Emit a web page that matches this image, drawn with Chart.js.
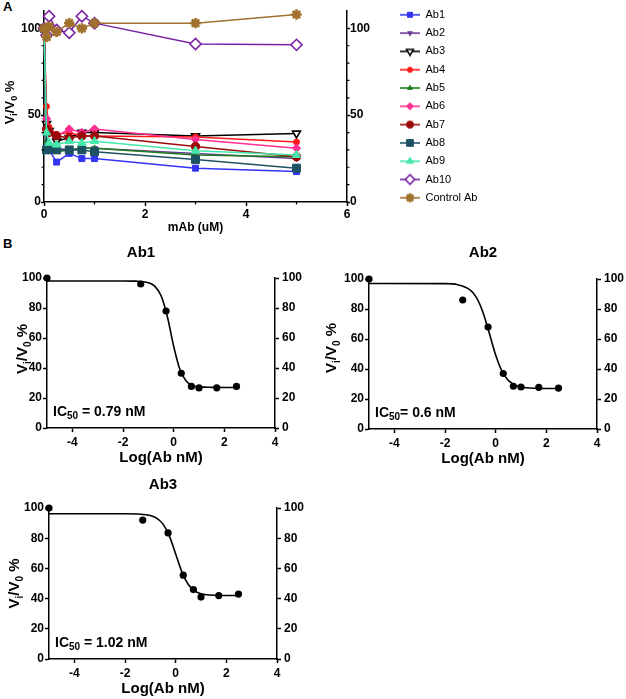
<!DOCTYPE html>
<html>
<head>
<meta charset="utf-8">
<script src="https://cdn.jsdelivr.net/npm/chart.js"></script>
<style>
html, body { margin: 0; padding: 0; background: #fff; }
body { width: 626px; height: 699px; position: relative; overflow: hidden; font-family: "Liberation Sans", Arial, sans-serif; }
.box { position: absolute; }
.lbl { position: absolute; font-weight: bold; font-size: 13px; line-height: 13px; color: #000; }
</style>
</head>
<body>
<div class="lbl" style="left:3px;top:0px">A</div>
<div class="lbl" style="left:3px;top:237px">B</div>
<div class="box" style="left:0;top:2px;width:626px;height:237px"><canvas id="chartA"></canvas></div>
<div class="box" style="left:-20px;top:230px;width:322px;height:237px"><canvas id="chartAb1"></canvas></div>
<div class="box" style="left:310px;top:230px;width:316px;height:238px"><canvas id="chartAb2"></canvas></div>
<div class="box" style="left:0;top:460px;width:310px;height:238px"><canvas id="chartAb3"></canvas></div>
<script>
// ---- panel A: inhibition vs mAb concentration (uM)
const concA = [0, 0.05, 0.1, 0.25, 0.5, 0.75, 1, 3, 5];
const ab1 = [100, 31, 30, 23, 28, 25, 25, 19.5, 17.5];
const ab2 = [100, 40, 33, 31, 30, 31, 31, 28, 25];
const ab3 = [100, 45, 41, 35, 37, 40, 40, 38, 39.5];
const ab4 = [100, 55, 43, 39, 40, 38, 38, 37.5, 34.5];
const ab5 = [100, 35, 32, 29, 30, 31, 31, 27, 26];
const ab6 = [100, 48, 40, 38, 42, 40, 42, 36, 31];
const ab7 = [100, 42, 40, 38, 37, 38, 38, 32, 26];
const ab8 = [100, 30, 31, 30, 30, 30, 29, 24.5, 19.5];
const ab9 = [100, 40, 34, 33, 35, 34, 35, 29.5, 27];
const ab10 = [100, 96, 107, 99, 97.5, 107, 103, 91, 90.5];
const ctrl = [100, 95, 101, 98, 103, 100, 103, 103, 108];
const namesA = ['Ab1', 'Ab2', 'Ab3', 'Ab4', 'Ab5', 'Ab6', 'Ab7', 'Ab8', 'Ab9', 'Ab10', 'Control Ab'];
const ticksAX = [0, 2, 4, 6];
const minorAX = [1, 3, 5];
const ticksAY = [0, 50, 100];
const minorAY = [10, 20, 30, 40, 60, 70, 80, 90];

// ---- panel B: dose response, x = Log(Ab nM)
const logB = [-5, -1.3, -0.3, 0.3, 0.7, 1, 1.7, 2.48];
const ab1Pts = [100, 96, 78, 36.5, 27.7, 26.7, 26.8, 27.7];
const ab2Pts = [100, 86, 68, 37, 28.5, 28, 27.8, 27.3];
const ab3Pts = [100, 92, 83.5, 55.5, 46, 41, 42, 43];
// fitted curves
const fitX = [-5, -2, -1.5, -1, -0.75, -0.5, -0.25, 0, 0.25, 0.5, 0.75, 1, 1.5, 2.5];
const ab1Fit = [98, 98, 97.9, 96.9, 94.6, 88.3, 74.3, 54.5, 38.8, 31.2, 28.4, 27.4, 27.1, 27];
const ab2Fit = [97, 96.9, 96.2, 92.6, 87.4, 77.7, 63.8, 49.3, 38.5, 32.4, 29.4, 28, 27.2, 27];
const ab3Fit = [96.2, 96.2, 96, 95.1, 93.3, 89.3, 81.5, 69.6, 57.5, 49.3, 45.1, 43.2, 42.2, 42];
const ticksBX = [-4, -2, 0, 2, 4];
const ticksBY = [0, 20, 40, 60, 80, 100];

const FONT = '"Liberation Sans", Arial, sans-serif';
Chart.defaults.font.family = FONT;
Chart.defaults.color = '#000';
Chart.defaults.animation = false;

const pair = (xs, ys) => xs.map((x, i) => ({x: x, y: ys[i]}));
const setTicks = vals => s => { s.ticks = vals.map(v => ({value: v})); };

// text with subscripts, drawn on the canvas
function drawRich(ctx, parts, x, y, align) {
  const main = Math.max(...parts.map(p => p.s));
  const fnt = p => 'bold ' + p.s + 'px ' + FONT;
  let w = 0;
  parts.forEach(p => { ctx.font = fnt(p); w += ctx.measureText(p.t).width; });
  let cx = align === 'center' ? x - w / 2 : x;
  const base = y + main * 0.36;
  ctx.textAlign = 'left';
  ctx.textBaseline = 'alphabetic';
  parts.forEach(p => {
    ctx.font = fnt(p);
    ctx.fillText(p.t, cx, p.sub ? base + main * 0.22 : base);
    cx += ctx.measureText(p.t).width;
  });
}

const richText = {
  id: 'richText',
  afterDraw(chart, args, opts) {
    const ctx = chart.ctx, ca = chart.chartArea;
    (opts.items || []).forEach(it => {
      ctx.save();
      ctx.fillStyle = '#000';
      if (it.rotate) {
        ctx.translate(ca.left - it.dx, (ca.top + ca.bottom) / 2 + (it.dy || 0));
        ctx.rotate(-Math.PI / 2);
        drawRich(ctx, it.parts, 0, 0, 'center');
      } else {
        drawRich(ctx, it.parts, ca.left + it.dx, ca.bottom - it.dy, 'left');
      }
      ctx.restore();
    });
  }
};

const minorTicks = {
  id: 'minorTicks',
  afterDraw(chart, args, opts) {
    const ctx = chart.ctx, ca = chart.chartArea, len = 2.5;
    ctx.save();
    ctx.strokeStyle = '#000';
    ctx.lineWidth = 1.2;
    ctx.beginPath();
    (opts.x || []).forEach(v => {
      const p = chart.scales.x.getPixelForValue(v);
      ctx.moveTo(p, ca.bottom); ctx.lineTo(p, ca.bottom + len);
    });
    (opts.y || []).forEach(v => {
      const p = chart.scales.y.getPixelForValue(v);
      ctx.moveTo(ca.left, p); ctx.lineTo(ca.left - len, p);
      ctx.moveTo(ca.right, p); ctx.lineTo(ca.right + len, p);
    });
    ctx.stroke();
    ctx.restore();
  }
};

const vTitle = (size, sub) => [
  {t: 'V', s: size}, {t: 'i', s: sub, sub: true}, {t: '/V', s: size}, {t: '0', s: sub, sub: true}, {t: ' %', s: size}
];

// ---------- panel A
const stylesA = [
  {c: '#3434f5', ps: 'rect', r: 4.2, fill: '#3434f5'},
  {c: '#6a3c94', ps: 'triangle', r: 3.2, rot: 180, fill: '#6a3c94'},
  {c: '#000000', ps: 'triangle', r: 4.6, rot: 180, fill: '#ffffff', bw: 1.6},
  {c: '#ff1a1a', ps: 'circle', r: 3, fill: '#ff1a1a'},
  {c: '#1e7d1e', ps: 'triangle', r: 3.2, fill: '#1e7d1e'},
  {c: '#ff2f92', ps: 'rectRot', r: 4.2, fill: '#ff2f92'},
  {c: '#9a0a0a', ps: 'circle', r: 4.2, fill: '#9a0a0a'},
  {c: '#1d5263', ps: 'rect', r: 5.6, fill: '#1d5263'},
  {c: '#45e8ab', ps: 'triangle', r: 4.8, fill: '#45e8ab'},
  {c: '#7a22a6', ps: 'rectRot', r: 5.6, fill: '#ffffff', bw: 1.6},
  {c: '#a0712d', ps: 'star', r: 5.2, fill: '#a0712d', bw: 2.6}
];
const seriesA = [ab1, ab2, ab3, ab4, ab5, ab6, ab7, ab8, ab9, ab10, ctrl];

const datasetsA = seriesA.map((vals, i) => {
  const st = stylesA[i];
  return {
    label: namesA[i],
    data: pair(concA, vals),
    order: seriesA.length - i,   // later series drawn on top
    borderColor: st.c,
    backgroundColor: st.fill,
    borderWidth: 1.5,
    pointStyle: st.ps,
    pointRadius: st.r,
    pointRotation: st.rot || 0,
    pointBackgroundColor: st.fill,
    pointBorderColor: st.c,
    pointBorderWidth: st.bw || 1,
    clip: false
  };
});

function legendIcon(ds) {
  const c = document.createElement('canvas');
  c.width = 22; c.height = 14;
  const g = c.getContext('2d');
  g.strokeStyle = ds.borderColor;
  g.lineWidth = 1.6;
  g.beginPath(); g.moveTo(1, 7); g.lineTo(21, 7); g.stroke();
  g.fillStyle = ds.pointBackgroundColor;
  g.strokeStyle = ds.pointBorderColor;
  g.lineWidth = ds.pointBorderWidth;
  Chart.helpers.drawPoint(g, {
    pointStyle: ds.pointStyle, radius: ds.pointRadius * 0.85,
    rotation: ds.pointRotation, borderWidth: ds.pointBorderWidth
  }, 11, 7);
  return c;
}

const axisStyle = (len) => ({
  drawOnChartArea: false, drawTicks: true, tickLength: len, tickWidth: 1.5, tickColor: '#000'
});
const border = {color: '#000', width: 1.5};
const tickFont = {size: 12, weight: 'bold'};

new Chart(document.getElementById('chartA'), {
  type: 'line',
  data: {datasets: datasetsA},
  options: {
    responsive: true,
    maintainAspectRatio: false,
    layout: {padding: {left: 0, right: 139.3, top: 0, bottom: 0}},
    scales: {
      x: {
        type: 'linear', min: 0, max: 6,
        afterBuildTicks: setTicks(ticksAX),
        afterFit: s => { s.height = 37; },
        ticks: {font: tickFont, padding: 1, autoSkip: false, maxRotation: 0},
        grid: axisStyle(4), border: border,
        title: {display: true, text: 'mAb (uM)', font: {size: 12, weight: 'bold'}, padding: {top: 0, bottom: 4}}
      },
      y: {
        min: 0, max: 110,
        afterBuildTicks: setTicks(ticksAY),
        afterFit: s => { s.width = 44; s.paddingTop = 9; },
        ticks: {font: tickFont, padding: 0, autoSkip: false},
        grid: axisStyle(3), border: border
      },
      y2: {
        position: 'right', min: 0, max: 110,
        afterBuildTicks: setTicks(ticksAY),
        afterFit: s => { s.width = 45.7; },
        ticks: {font: tickFont, padding: 0, autoSkip: false},
        grid: axisStyle(3), border: border
      }
    },
    plugins: {
      legend: {
        position: 'right',
        align: 'start',
        maxWidth: 94,
        labels: {
          usePointStyle: true,
          pointStyleWidth: 20,
          padding: 7.3,
          color: '#333',
          font: {size: 11},
          generateLabels: chart => chart.data.datasets.map((ds, i) => ({
            text: ds.label, pointStyle: legendIcon(ds), datasetIndex: i,
            fillStyle: ds.backgroundColor, strokeStyle: ds.borderColor, lineWidth: 0, hidden: false
          }))
        }
      },
      tooltip: {enabled: false},
      minorTicks: {x: minorAX, y: minorAY},
      richText: {items: [{rotate: true, dx: 35, dy: -4, parts: vTitle(13, 9)}]}
    }
  },
  plugins: [minorTicks, richText]
});

// ---------- panel B
function doseChart(id, name, pts, fit, o) {
  new Chart(document.getElementById(id), {
    type: 'line',
    data: {
      datasets: [
        {
          data: pair(logB, pts), showLine: false,
          pointStyle: 'circle', pointRadius: 3.6,
          pointBackgroundColor: '#000', pointBorderColor: '#000', pointBorderWidth: 0, clip: false
        },
        {
          data: pair(fitX, fit), borderColor: '#000', borderWidth: 1.6,
          pointRadius: 0, cubicInterpolationMode: 'monotone', clip: false
        }
      ]
    },
    options: {
      responsive: true,
      maintainAspectRatio: false,
      layout: {padding: 0},
      scales: {
        x: {
          type: 'linear', min: -5, max: 4,
          afterBuildTicks: setTicks(ticksBX),
          afterFit: s => { s.height = o.xh; },
          ticks: {font: tickFont, padding: 3, autoSkip: false, maxRotation: 0},
          grid: axisStyle(4), border: border,
          title: {display: true, text: 'Log(Ab nM)', font: {size: 15, weight: 'bold'}, padding: 0}
        },
        y: {
          min: 0, max: 100,
          afterBuildTicks: setTicks(ticksBY),
          afterFit: s => { s.width = o.yw; },
          ticks: {font: tickFont, padding: 1, autoSkip: false},
          grid: axisStyle(4), border: border
        },
        y2: {
          position: 'right', min: 0, max: 100,
          afterBuildTicks: setTicks(ticksBY),
          afterFit: s => { s.width = o.y2w; },
          ticks: {font: tickFont, padding: 3, autoSkip: false},
          grid: axisStyle(4), border: border
        }
      },
      plugins: {
        legend: {display: false},
        tooltip: {enabled: false},
        title: {
          display: true, text: name, fullSize: o.full, color: '#000',
          font: {size: 15, weight: 'bold'}, padding: {top: o.pt, bottom: o.pb}
        },
        richText: {items: [
          {rotate: true, dx: o.tdx, dy: o.tdy, parts: vTitle(15, 10)},
          {dx: 6, dy: 17, parts: [{t: 'IC', s: 14}, {t: '50', s: 10, sub: true}, {t: o.ic, s: 14}]}
        ]}
      }
    },
    plugins: [richText]
  });
}

doseChart('chartAb1', 'Ab1', ab1Pts, ab1Fit, {xh: 39, yw: 67, y2w: 27, full: true, pt: 14, pb: 16, tdx: 25, tdy: -4, ic: ' = 0.79 nM'});
doseChart('chartAb2', 'Ab2', ab2Pts, ab2Fit, {xh: 39, yw: 59, y2w: 29, full: false, pt: 14, pb: 17, tdx: 38, tdy: -6, ic: '= 0.6 nM'});
doseChart('chartAb3', 'Ab3', ab3Pts, ab3Fit, {xh: 39, yw: 49, y2w: 33, full: false, pt: 16, pb: 14, tdx: 35, tdy: 0, ic: ' = 1.02 nM'});
</script>
</body>
</html>
